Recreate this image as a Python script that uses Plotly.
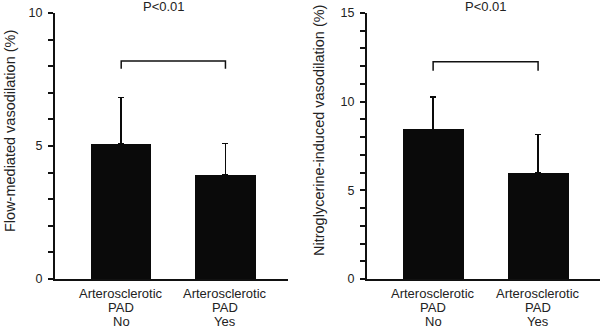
import plotly.graph_objects as go

# Group categories and their three-line labels
groups = ["No", "Yes"]
label_lines = [["Arterosclerotic", "PAD", "No"],
               ["Arterosclerotic", "PAD", "Yes"]]

# Flow-mediated vasodilation (%), mean and SD
fmd_mean = [5.07, 3.9]
fmd_sd = [1.75, 1.2]

# Nitroglycerine-induced vasodilation (%), mean and SD
ntg_mean = [8.44, 6.0]
ntg_sd = [1.84, 2.15]

# Significance brackets: [bar height, leg end] in axis units
fmd_bracket = [8.2, 7.9]
ntg_bracket = [12.25, 11.75]
p_text = "P<0.01"

# Axis ranges and labelled tick step
fmd_max, ntg_max, label_step = 10, 15, 5

font_family = "Liberation Sans, Arial, sans-serif"
text_color = "#222222"
ink = "#0a0a0a"

W, H = 600, 328
fig = go.Figure()

x_idx = list(range(len(groups)))


def add_bars(mean, sd, xa, ya):
    fig.add_trace(go.Bar(
        x=x_idx, y=mean, width=0.58,
        marker=dict(color=ink, line=dict(color=ink, width=0)),
        error_y=dict(type="data", symmetric=False, array=sd,
                     arrayminus=[0] * len(sd),
                     color=ink, thickness=1.6, width=3),
        xaxis=xa, yaxis=ya, showlegend=False,
    ))


add_bars(fmd_mean, fmd_sd, "x", "y")
add_bars(ntg_mean, ntg_sd, "x2", "y2")

ydom = [1 - 279 / H, 1 - 13 / H]

axis_common = dict(showgrid=False, zeroline=False, showline=True,
                   linecolor="#111111", linewidth=2, automargin=False,
                   tickfont=dict(family=font_family, size=12.5, color=text_color))

xcommon = dict(axis_common, tickmode="array", tickvals=x_idx,
               showticklabels=False, ticks="")


def y_axis(vmax, xa):
    vals = list(range(0, vmax + 1))
    text = [str(v) if v % label_step == 0 else "" for v in vals]
    return dict(axis_common, domain=ydom, range=[0, vmax], anchor=xa,
                tickmode="array", tickvals=vals, ticktext=text,
                ticks="outside", ticklen=5, tickwidth=1.5,
                tickcolor="#111111", ticklabelstandoff=3)


fig.update_layout(
    width=W, height=H,
    margin=dict(l=0, r=0, t=0, b=0),
    paper_bgcolor="white", plot_bgcolor="white",
    font=dict(family=font_family, size=13, color=text_color),
    bargap=0,
    xaxis=dict(xcommon, domain=[55 / W, 288 / W], range=[-0.635, 1.6], anchor="y"),
    yaxis=y_axis(fmd_max, "x"),
    xaxis2=dict(xcommon, domain=[367 / W, 600 / W], range=[-0.63, 1.59], anchor="y2"),
    yaxis2=y_axis(ntg_max, "x2"),
)

# Category labels, one annotation per line for tight line spacing
line_rows_px = [293.5, 307.5, 321]
for xref in ["x", "x2"]:
    for i, lines in enumerate(label_lines):
        for txt, py in zip(lines, line_rows_px):
            fig.add_annotation(text=txt, x=x_idx[i], y=1 - py / H, xref=xref, yref="paper",
                               xanchor="center", yanchor="middle", showarrow=False,
                               font=dict(family=font_family, size=13, color=text_color))


def add_bracket(xref, yref, levels, xpaper_center):
    top, leg = levels
    fig.add_shape(type="path",
                  path=f"M {x_idx[0]},{leg} L {x_idx[0]},{top} L {x_idx[1]},{top} L {x_idx[1]},{leg}",
                  xref=xref, yref=yref, line=dict(color="#111111", width=1.5))
    fig.add_annotation(text=p_text, x=xpaper_center, y=1 + 3 / H, xref="paper", yref="paper",
                       xanchor="center", yanchor="top", showarrow=False,
                       font=dict(family=font_family, size=13, color=text_color))


add_bracket("x", "y", fmd_bracket, 164 / W)
add_bracket("x2", "y2", ntg_bracket, 486 / W)

# Rotated y-axis titles
title_font = dict(family=font_family, size=14.5, color=text_color)
fig.add_annotation(text="Flow-mediated vasodilation (%)", textangle=-90,
                   x=10 / W, y=1 - 131 / H, xref="paper", yref="paper",
                   xanchor="center", yanchor="middle", showarrow=False, font=title_font)
fig.add_annotation(text="Nitroglycerine-induced vasodilation (%)", textangle=-90,
                   x=319 / W, y=1 - 131 / H, xref="paper", yref="paper",
                   xanchor="center", yanchor="middle", showarrow=False, font=title_font)

fig.write_html("out.html")
